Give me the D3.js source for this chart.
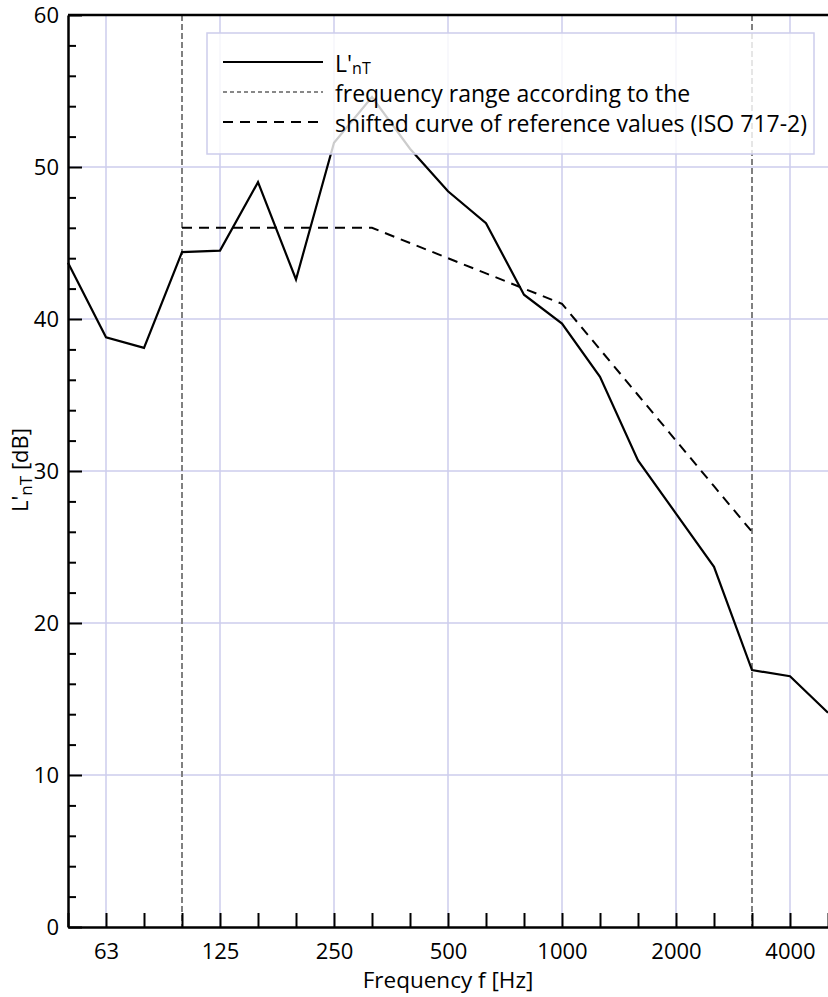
<!DOCTYPE html>
<html>
<head>
<meta charset="utf-8">
<script src="https://cdn.jsdelivr.net/npm/d3@7"></script>
<style>
  html, body { margin: 0; padding: 0; background: #fff; }
  svg { display: block; font-family: "Open Sans", "Noto Sans", sans-serif; }
</style>
</head>
<body>
<svg id="chart" width="828" height="997"></svg>
<script>
// One-third-octave band centre frequencies (Hz)
const bands = ["50","63","80","100","125","160","200","250","315","400","500",
               "630","800","1000","1250","1600","2000","2500","3150","4000","5000"];
// Measured standardized impact sound pressure level L'nT (dB)
const lnT = [43.7, 38.8, 38.1, 44.4, 44.5, 49.0, 42.6, 51.6, 54.6, 51.2, 48.4,
             46.3, 41.6, 39.7, 36.2, 30.7, 27.2, 23.7, 16.9, 16.5, 14.1];
// Shifted reference curve (ISO 717-2), 100 Hz – 3150 Hz
const refBands = ["100","125","160","200","250","315","400","500",
                  "630","800","1000","1250","1600","2000","2500","3150"];
const refValues = [46, 46, 46, 46, 46, 46, 45, 44, 43, 42, 41, 38, 35, 32, 29, 26];
// Limits of the evaluated frequency range
const rangeBands = ["100", "3150"];
// Labelled bands on the frequency axis
const labelledBands = ["63","125","250","500","1000","2000","4000"];
// Level axis
const yMajorTicks = [0, 10, 20, 30, 40, 50, 60];
const yMinorTicks = d3.range(0, 61, 2).filter(v => v % 10 !== 0);

const margin = { top: 15, left: 68 };
const W = 760, H = 912;

const svg = d3.select("#chart");
const g = svg.append("g").attr("transform", `translate(${margin.left},${margin.top})`);

const x = d3.scalePoint().domain(bands).range([0, W]).padding(0);
const y = d3.scaleLinear().domain([0, 60]).range([H, 0]);

const gridColor = "#cdcdec";

// grid
g.append("g").selectAll("line.vg").data(labelledBands).join("line")
  .attr("x1", d => x(d)).attr("x2", d => x(d))
  .attr("y1", 0).attr("y2", H)
  .attr("stroke", gridColor).attr("stroke-width", 1.5);
g.append("g").selectAll("line.hg").data(yMajorTicks.filter(v => v > 0 && v < 60)).join("line")
  .attr("x1", 0).attr("x2", W)
  .attr("y1", d => y(d)).attr("y2", d => y(d))
  .attr("stroke", gridColor).attr("stroke-width", 1.5);

// frequency range limits
g.append("g").selectAll("line").data(rangeBands).join("line")
  .attr("x1", d => x(d)).attr("x2", d => x(d))
  .attr("y1", 0).attr("y2", H)
  .attr("stroke", "#808080").attr("stroke-width", 2)
  .attr("stroke-dasharray", "6,3");

// reference curve
g.append("path")
  .datum(refBands.map((b, i) => [b, refValues[i]]))
  .attr("fill", "none").attr("stroke", "#000").attr("stroke-width", 2)
  .attr("stroke-dasharray", "10,7")
  .attr("d", d3.line().x(d => x(d[0])).y(d => y(d[1])));

// measured curve
g.append("path")
  .datum(bands.map((b, i) => [b, lnT[i]]))
  .attr("fill", "none").attr("stroke", "#000").attr("stroke-width", 2.2)
  .attr("stroke-linejoin", "miter")
  .attr("d", d3.line().x(d => x(d[0])).y(d => y(d[1])));

// axes
const xAxis = d3.axisBottom(x)
  .tickSizeInner(-14).tickSizeOuter(0).tickPadding(16)
  .tickFormat(d => labelledBands.includes(d) ? d : "");
const gx = g.append("g").attr("transform", `translate(0,${H})`).call(xAxis);
gx.select(".domain").attr("stroke-width", 2.5);
gx.selectAll(".tick line").attr("stroke-width", 2);
gx.selectAll("text").attr("font-size", 22).attr("fill", "#000")
  .attr("font-family", "'Open Sans', sans-serif");

const yAxis = d3.axisLeft(y)
  .tickValues(yMajorTicks).tickSizeInner(-14).tickSizeOuter(0).tickPadding(9);
const gy = g.append("g").call(yAxis);
gy.select(".domain").attr("stroke-width", 2.5);
gy.selectAll(".tick line").attr("stroke-width", 2);
gy.selectAll("text").attr("font-size", 22).attr("fill", "#000")
  .attr("font-family", "'Open Sans', sans-serif");

const yMinor = d3.axisLeft(y).tickValues(yMinorTicks).tickSizeInner(-8).tickSizeOuter(0).tickFormat("");
const gym = g.append("g").call(yMinor);
gym.select(".domain").remove();
gym.selectAll(".tick line").attr("stroke-width", 2);

// top frame line
g.append("line").attr("x1", 0).attr("x2", W).attr("y1", 0).attr("y2", 0)
  .attr("stroke", "#000").attr("stroke-width", 2.5);

// axis titles
svg.append("text")
  .attr("x", margin.left + W / 2).attr("y", 988)
  .attr("text-anchor", "middle").attr("font-size", 22.5)
  .text("Frequency f [Hz]");

const yt = svg.append("text")
  .attr("transform", `translate(28,${470}) rotate(-90)`)
  .attr("text-anchor", "middle").attr("font-size", 22);
yt.append("tspan").text("L'");
yt.append("tspan").attr("font-size", 17).attr("dy", 4).text("nT");
yt.append("tspan").attr("dy", -4).text(" [dB]");

// legend
const lg = svg.append("g");
lg.append("rect")
  .attr("x", 207).attr("y", 33).attr("width", 607).attr("height", 121)
  .attr("fill", "#fff").attr("fill-opacity", 0.8)
  .attr("stroke", gridColor).attr("stroke-width", 1.5);

const legendItems = [
  { dash: null, color: "#000", width: 2.2 },
  { dash: "4,3", color: "#888", width: 2 },
  { dash: "10,7", color: "#000", width: 2 }
];
legendItems.forEach((it, i) => {
  const ly = 62 + i * 30;
  lg.append("line").attr("x1", 223).attr("x2", 323).attr("y1", ly).attr("y2", ly)
    .attr("stroke", it.color).attr("stroke-width", it.width)
    .attr("stroke-dasharray", it.dash);
});
const t0 = lg.append("text").attr("x", 335).attr("y", 72).attr("font-size", 23);
t0.append("tspan").text("L'");
t0.append("tspan").attr("font-size", 16).attr("dy", 1.5).text("nT");
lg.append("text").attr("x", 335).attr("y", 102).attr("font-size", 23)
  .text("frequency range according to the");
lg.append("text").attr("x", 335).attr("y", 132).attr("font-size", 23)
  .text("shifted curve of reference values (ISO 717-2)");
</script>
</body>
</html>
